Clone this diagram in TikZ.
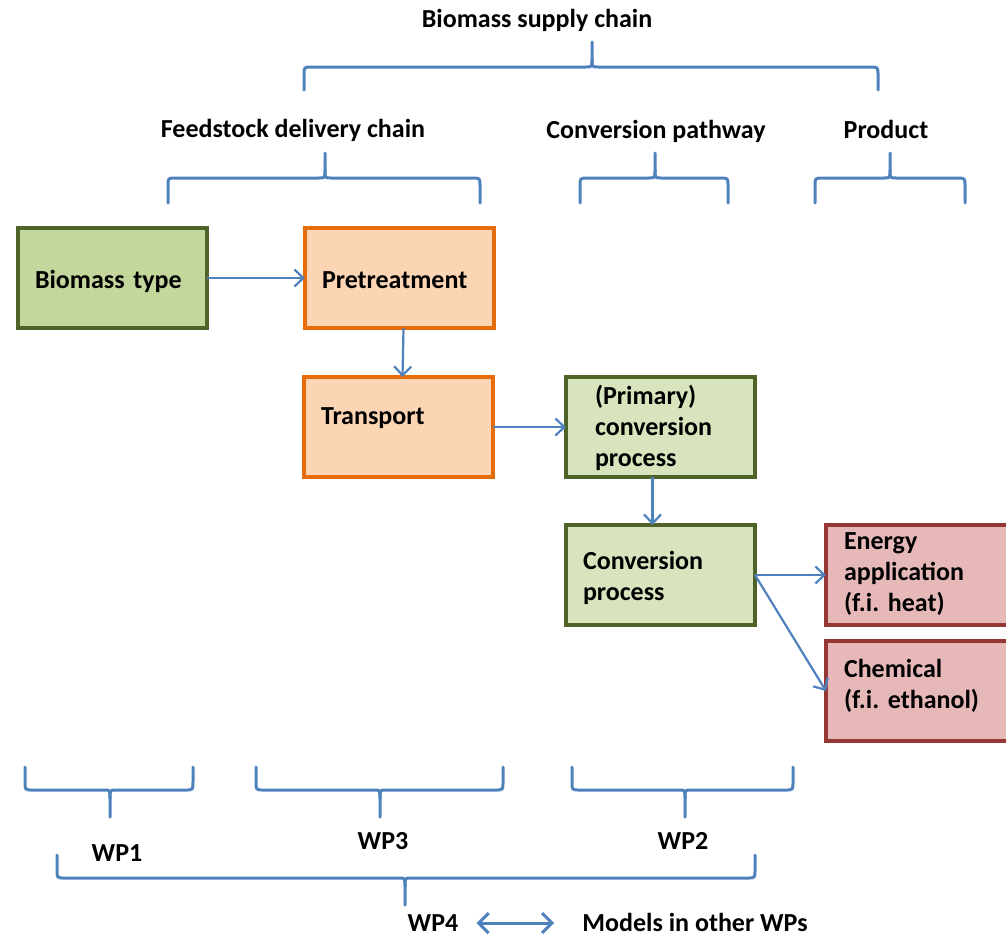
\documentclass[tikz,border=0pt]{standalone}
\usepackage{fontspec}
\setmainfont{Carlito}
\usetikzlibrary{arrows.meta}
\definecolor{bluel}{HTML}{4F81BD}
\definecolor{gborder}{HTML}{4F6228}
\definecolor{gdark}{HTML}{C3D69B}
\definecolor{glight}{HTML}{D7E4BD}
\definecolor{oborder}{HTML}{E46C0A}
\definecolor{ofill}{HTML}{FCD5B5}
\definecolor{rborder}{HTML}{953735}
\definecolor{rfill}{HTML}{E6B9B8}
\newcommand{\bracedn}[6]{%
  \draw[brace] (#1,#6) -- (#1,#5+8) .. controls (#1,#5) .. (#1+8,#5) -- (#3-6,#5) .. controls (#3,#5) .. (#3,#5-8) -- (#3,#4);
  \draw[brace] (#2,#6) -- (#2,#5+8) .. controls (#2,#5) .. (#2-8,#5) -- (#3+6,#5) .. controls (#3,#5) .. (#3,#5-8);}
\newcommand{\braceup}[6]{%
  \draw[brace] (#1,#6) -- (#1,#5-8) .. controls (#1,#5) .. (#1+8,#5) -- (#3-6,#5) .. controls (#3,#5) .. (#3,#5+8) -- (#3,#4);
  \draw[brace] (#2,#6) -- (#2,#5-8) .. controls (#2,#5) .. (#2-8,#5) -- (#3+6,#5) .. controls (#3,#5) .. (#3,#5+8);}
\begin{document}
\begin{tikzpicture}[x=1pt,y=-1pt,
  font=\fontsize{26}{31}\selectfont\bfseries,
  brace/.style={draw=bluel, line width=3pt, line cap=round},
  arr/.style={draw=bluel, line width=2.2pt, -{Straight Barb[length=9pt,width=17pt,line width=2.2pt]}},
  darr/.style={draw=bluel, line width=3pt, {Straight Barb[length=10pt,width=20pt,line width=3pt]}-{Straight Barb[length=10pt,width=20pt,line width=3pt]}},
  boxbase/.style={rectangle, line width=3.5pt, anchor=north west, outer sep=0pt,
    minimum width=189pt, minimum height=100pt, align=left, inner xsep=17pt, text width=155pt,
    text height=20pt},
  gbox/.style={boxbase, draw=gborder, fill=glight},
  obox/.style={boxbase, draw=oborder, fill=ofill},
  rbox/.style={boxbase, draw=rborder, fill=rfill, inner xsep=18pt, text width=153pt},
  lbl/.style={inner sep=0pt, anchor=base}]
\useasboundingbox (0,0) rectangle (1006,938);
\clip (0,0) rectangle (1006,938);

% headings
\node[lbl] (bsc) at (537,27) {Biomass supply chain};
\node[lbl] (fdc) at (293,137) {Feedstock delivery chain};
\node[lbl] (cpw) at (656,138) {Conversion pathway};
\node[lbl] (prd) at (886,138) {Product};

% top braces
\bracedn{304}{878}{592}{42}{67}{90}
\bracedn{168}{480}{325}{153}{178}{203}
\bracedn{580}{728}{655}{153}{178}{203}
\bracedn{815}{965}{890}{153}{178}{203}

% boxes
\node[gbox, fill=gdark, text depth=0pt] (bt) at (18,228) {Biomass type};
\node[obox, text depth=0pt] (pre) at (305,228) {Pretreatment};
\node[obox, text depth=26pt] (tr) at (304,377) {Transport};
\node[gbox, inner xsep=29pt, text width=131pt, text depth=66pt] (prim) at (566,377) {(Primary)\\conversion\\process};
\node[gbox, text depth=32pt] (cp) at (566,525) {Conversion\\process};
\node[rbox, text depth=72pt] (en) at (826,525) {Energy\\application\\(f.i.~heat)};
\node[rbox, text depth=48pt] (ch) at (826,641) {Chemical\\(f.i.~ethanol)};

% arrows
\draw[arr] (bt.east) -- (pre.west);
\draw[arr] ([xshift=4pt]pre.south) -- ([xshift=4pt]tr.north);
\draw[arr] (tr.east) -- (prim.west);
\draw[arr] ([xshift=-8pt]prim.south) -- ([xshift=-8pt]cp.north);
\draw[arr] (cp.east) -- (en.west);
\draw[arr] (cp.east) -- (ch.west);

% bottom braces
\braceup{25}{193}{110}{817}{790}{767}
\braceup{256}{503}{380}{817}{790}{767}
\braceup{572}{793}{685}{817}{790}{767}
\braceup{57}{755}{405}{905}{878}{855}

% WP labels
\node[lbl] (wp1) at (117,861) {WP1};
\node[lbl] (wp3) at (383,849) {WP3};
\node[lbl] (wp2) at (683,849) {WP2};
\node[lbl] (wp4) at (433,931) {WP4};
\node[lbl] (mod) at (695,931) {Models in other WPs};
\draw[darr] ([xshift=18pt,yshift=8pt]wp4.base east) -- ([xshift=-28pt,yshift=8pt]mod.base west);
\end{tikzpicture}
\end{document}
